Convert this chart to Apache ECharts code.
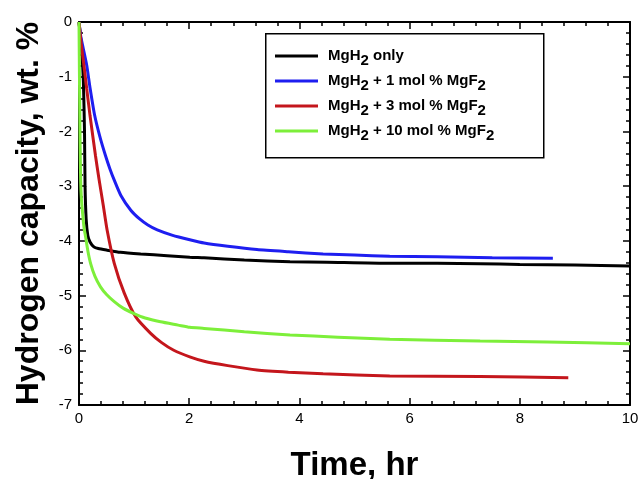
<!DOCTYPE html>
<html>
<head>
<meta charset="utf-8">
<script src="https://cdn.jsdelivr.net/npm/echarts@6/dist/echarts.min.js"></script>
<style>html,body{margin:0;padding:0;background:#fff;}#c{width:638px;height:479px;}</style>
</head>
<body>
<div id="c"></div>
<script>
const seriesNames = ['MgH2 only', 'MgH2 + 1 mol % MgF2', 'MgH2 + 3 mol % MgF2', 'MgH2 + 10 mol % MgF2'];
const xTickLabels = ['0', '2', '4', '6', '8', '10'];

const tBlack = [0, 0.03, 0.06, 0.08, 0.1, 0.11, 0.13, 0.16, 0.2, 0.27, 0.35, 0.51, 0.75, 1.12, 1.6, 2.01, 2.27, 3, 3.83, 4.5, 5.64, 6.5, 7.28, 8, 9, 10];
const vBlack = [0, -0.3, -0.7, -1.1, -2.0, -3.0, -3.6, -3.9, -4.02, -4.11, -4.14, -4.17, -4.21, -4.24, -4.27, -4.3, -4.31, -4.35, -4.38, -4.39, -4.41, -4.41, -4.42, -4.43, -4.44, -4.46];

const tBlue = [0, 0.03, 0.07, 0.14, 0.2, 0.285, 0.38, 0.48, 0.56, 0.64, 0.76, 0.94, 1.1, 1.25, 1.42, 1.7, 2.01, 2.27, 2.7, 3.23, 3.8, 4.43, 5, 5.64, 6.5, 7.5, 8.6];
const vBlue = [0, -0.25, -0.45, -0.79, -1.2, -1.71, -2.1, -2.44, -2.68, -2.89, -3.17, -3.44, -3.6, -3.71, -3.8, -3.9, -3.98, -4.04, -4.1, -4.16, -4.2, -4.24, -4.26, -4.28, -4.29, -4.31, -4.32];

const tRed = [0, 0.04, 0.09, 0.14, 0.2, 0.3, 0.36, 0.44, 0.51, 0.64, 0.82, 1.03, 1.3, 1.5, 1.72, 2.01, 2.27, 2.7, 3.23, 3.8, 4.43, 5.64, 7.28, 8.88];
const vRed = [0, -0.4, -0.8, -1.22, -1.71, -2.45, -2.85, -3.35, -3.8, -4.41, -4.95, -5.39, -5.69, -5.86, -6.0, -6.12, -6.2, -6.28, -6.36, -6.4, -6.43, -6.47, -6.48, -6.5];

const tGreen = [0, 0.005, 0.01, 0.02, 0.03, 0.045, 0.07, 0.09, 0.12, 0.16, 0.21, 0.29, 0.39, 0.5, 0.64, 0.8, 1.0, 1.2, 1.48, 1.8, 2.01, 2.27, 3, 3.83, 4.7, 5.64, 7.28, 8.5, 10];
const vGreen = [0, -0.6, -1.2, -2.2, -2.9, -3.25, -3.55, -3.75, -3.93, -4.18, -4.41, -4.65, -4.84, -4.98, -5.11, -5.23, -5.33, -5.41, -5.48, -5.54, -5.58, -5.6, -5.66, -5.72, -5.76, -5.8, -5.83, -5.85, -5.88];

const colors = ['#000000', '#1e1ef0', '#c4161c', '#7def3a'];
const pairs = (t, v) => t.map((x, i) => [x, v[i]]);
const seriesData = [pairs(tBlack, vBlack), pairs(tBlue, vBlue), pairs(tRed, vRed), pairs(tGreen, vGreen)];

function fmt(n) {
  let s = '{a|' + n.replace(/MgH2/g, '}{a|MgH}{s|2}{a|').replace(/MgF2/g, '}{a|MgF}{s|2}{a|') + '}';
  return s.replace(/\{a\|\}/g, '');
}

const tickCommon = {
  axisLine: { show: true, onZero: false, lineStyle: { color: '#000', width: 2 } },
  axisTick: { show: true, inside: true, length: 7, lineStyle: { color: '#000', width: 1.5 } },
  minorTick: { show: true, splitNumber: 5, length: 4, lineStyle: { color: '#000', width: 1.5 } },
  splitLine: { show: false },
  minorSplitLine: { show: false }
};

const chart = echarts.init(document.getElementById('c'));
chart.setOption({
  animation: false,
  backgroundColor: '#fff',
  grid: { left: 79, right: 8, top: 22, bottom: 74, containLabel: false, outerBoundsMode: 'none' },
  graphic: [{
    type: 'rect', left: 265, top: 33, shape: { width: 278, height: 124 },
    style: { fill: '#fff', stroke: '#000', lineWidth: 1.5 }, z: 5
  }],
  legend: {
    orient: 'vertical', left: 270, top: 39, itemWidth: 43, itemHeight: 3, itemGap: 1,
    icon: 'rect', z: 10,
    data: seriesNames,
    formatter: fmt,
    textStyle: {
      padding: [0, 0, 0, 5],
      rich: {
        a: { fontFamily: 'Liberation Sans, Arial', fontWeight: 'bold', fontSize: 15, color: '#000', lineHeight: 20 },
        s: { fontFamily: 'Liberation Sans, Arial', fontWeight: 'bold', fontSize: 15, color: '#000', lineHeight: 20, padding: [9, 0, 0, 0] }
      }
    }
  },
  xAxis: [
    Object.assign({
      type: 'value', min: 0, max: 10, interval: 2, position: 'bottom',
      axisLabel: { show: true, color: '#000', fontSize: 15, fontFamily: 'Liberation Sans, Arial', margin: 6,
        formatter: (v) => xTickLabels[Math.round(v / 2)] },
      name: 'Time, hr', nameLocation: 'middle', nameGap: 44,
      nameTextStyle: { color: '#000', fontSize: 33, fontWeight: 'bold', fontFamily: 'Liberation Sans, Arial' }
    }, tickCommon),
    Object.assign({
      type: 'value', min: 0, max: 10, interval: 2, position: 'top',
      axisLabel: { show: false }
    }, tickCommon)
  ],
  yAxis: [
    Object.assign({
      type: 'value', min: -7, max: 0, interval: 1, position: 'left',
      axisLabel: { show: true, color: '#000', fontSize: 15, fontFamily: 'Liberation Sans, Arial', margin: 7 },
      name: 'Hydrogen capacity, wt. %', nameLocation: 'middle', nameGap: 34,
      nameTextStyle: { color: '#000', fontSize: 32, fontWeight: 'bold', fontFamily: 'Liberation Sans, Arial' }
    }, tickCommon),
    Object.assign({
      type: 'value', min: -7, max: 0, interval: 1, position: 'right',
      axisLabel: { show: false }
    }, tickCommon)
  ],
  series: seriesNames.map((n, i) => ({
    name: n, type: 'line', data: seriesData[i], showSymbol: false, symbol: 'none',
    smooth: 0.2, clip: true,
    color: colors[i],
    lineStyle: { color: colors[i], width: 3 }, z: 2 + i
  }))
});
</script>
</body>
</html>
